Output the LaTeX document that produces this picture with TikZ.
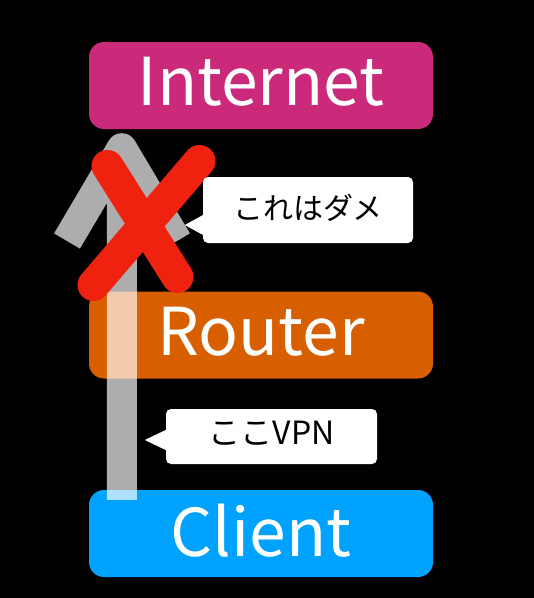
\documentclass[tikz,border=0pt]{standalone}
\usepackage{fontspec}
\setmainfont{Noto Sans CJK JP}
\definecolor{inetcol}{HTML}{CB2A7B}
\definecolor{routecol}{HTML}{D85F00}
\definecolor{clientcol}{HTML}{00A2FF}
\definecolor{xred}{HTML}{EF2210}
\begin{document}
\begin{tikzpicture}[x=1pt,y=-1pt]
\tikzset{
  netbox/.style={rounded corners=15pt, minimum width=344pt, minimum height=87pt,
    inner sep=0pt, text=white, font=\fontsize{66}{66}\selectfont},
  callout/.style={fill=white, rounded corners=5pt, inner sep=0pt, text=black,
    font=\fontsize{30}{30}\selectfont},
  vpnarrow/.style={white, opacity=0.68, line width=30pt, line join=round},
  crossline/.style={xred, line width=32pt, line cap=round},
}
\fill[black] (0,0) rectangle (534,598);
\useasboundingbox (0,0) rectangle (534,598);
% boxes
\node[netbox, fill=inetcol] (internet) at (261,85.5) {\raisebox{7.5pt}{Internet}};
\node[netbox, fill=routecol] (router) at (261,335) {\raisebox{7pt}{Router}};
\node[netbox, fill=clientcol] (client) at (261,533.5) {\raisebox{7.5pt}{Client}};
% arrow from client to internet
\coordinate (shaftbot) at ([xshift=33pt,yshift=-10pt]client.north west);
\coordinate (tip) at ([xshift=33pt,yshift=-19pt]internet.south west);
\coordinate (armleft) at (67,241);
\coordinate (armright) at (177,241);
\draw[vpnarrow] (armleft) -- (tip) -- (armright) (tip) -- (shaftbot);
% red cross
\draw[crossline] (107.5,166) -- (177.5,277);
\draw[crossline] (199.5,161) -- (93.5,285);
% callouts
\node[callout, minimum width=210pt, minimum height=66pt] (bad) at (308,210) {\raisebox{7pt}{これはダメ}};
\fill[white] ([xshift=2pt,yshift=-4pt]bad.west) -- ([xshift=-18pt,yshift=-15pt]bad.west) -- ([xshift=2pt,yshift=-26pt]bad.west) -- cycle;
\node[callout, minimum width=211pt, minimum height=55pt, font=\fontsize{32}{32}\selectfont] (vpn) at (271.5,436.5) {\raisebox{8pt}{ここVPN}};
\fill[white] ([xshift=2pt,yshift=7.5pt]vpn.west) -- ([xshift=-21pt,yshift=-3.5pt]vpn.west) -- ([xshift=2pt,yshift=-14.5pt]vpn.west) -- cycle;
\end{tikzpicture}
\end{document}
